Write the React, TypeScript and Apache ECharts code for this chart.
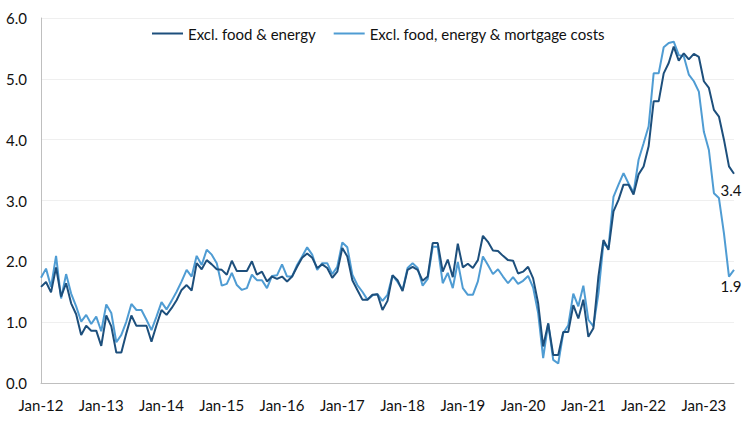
import React, { useEffect, useRef } from "react";
import * as echarts from "echarts";

const MONTHS = ["Jan", "Feb", "Mar", "Apr", "May", "Jun", "Jul", "Aug", "Sep", "Oct", "Nov", "Dec"];
const START_YEAR = 2012;
const N_POINTS = 139; // Jan-12 .. Jul-23

const categories: string[] = Array.from({ length: N_POINTS }, (_, i) => {
  const m = MONTHS[i % 12];
  const y = String((START_YEAR + Math.floor(i / 12)) % 100).padStart(2, "0");
  return `${m}-${y}`;
});

const seriesNames = ["Excl. food & energy", "Excl. food, energy & mortgage costs"];

const exclFoodEnergy = [
  1.58, 1.66, 1.49, 1.90, 1.42, 1.64, 1.31, 1.13, 0.79, 0.94, 0.86, 0.86,
  0.61, 1.11, 0.93, 0.50, 0.50, 0.82, 1.11, 0.94, 0.94, 0.94, 0.68, 0.95,
  1.20, 1.12, 1.23, 1.36, 1.53, 1.61, 1.52, 1.97, 1.87, 2.02, 1.95, 1.87,
  1.86, 1.78, 2.01, 1.84, 1.84, 1.84, 2.00, 1.78, 1.83, 1.67, 1.75, 1.71,
  1.75, 1.67, 1.75, 1.91, 2.06, 2.13, 2.06, 1.89, 1.95, 1.89, 1.73, 1.83,
  2.22, 2.08, 1.69, 1.53, 1.37, 1.37, 1.45, 1.46, 1.20, 1.35, 1.77, 1.69,
  1.51, 1.86, 1.91, 1.86, 1.68, 1.75, 2.30, 2.30, 1.83, 2.03, 1.74, 2.29,
  1.90, 1.96, 1.89, 2.02, 2.42, 2.32, 2.18, 2.17, 2.09, 2.02, 2.01, 1.80,
  1.83, 1.91, 1.72, 1.31, 0.60, 0.98, 0.46, 0.46, 0.84, 0.84, 1.28, 1.06,
  1.37, 0.76, 0.90, 1.75, 2.35, 2.19, 2.82, 3.01, 3.26, 3.26, 3.10, 3.43,
  3.56, 3.89, 4.63, 4.63, 5.09, 5.26, 5.53, 5.30, 5.42, 5.32, 5.41, 5.36,
  4.96, 4.85, 4.49, 4.38, 4.00, 3.56, 3.44,
];

const exclFoodEnergyMortgage = [
  1.73, 1.88, 1.58, 2.09, 1.39, 1.79, 1.47, 1.26, 1.01, 1.12, 0.97, 1.09,
  0.85, 1.29, 1.15, 0.67, 0.79, 1.01, 1.30, 1.20, 1.20, 1.04, 0.87, 1.09,
  1.33, 1.21, 1.35, 1.50, 1.67, 1.86, 1.75, 2.09, 1.94, 2.19, 2.11, 1.97,
  1.60, 1.63, 1.81, 1.61, 1.53, 1.56, 1.78, 1.69, 1.69, 1.56, 1.76, 1.77,
  1.95, 1.75, 1.75, 1.94, 2.08, 2.23, 2.11, 1.86, 1.97, 1.97, 1.79, 1.91,
  2.31, 2.23, 1.78, 1.61, 1.50, 1.37, 1.44, 1.46, 1.35, 1.45, 1.77, 1.66,
  1.53, 1.89, 1.97, 1.89, 1.60, 1.71, 2.24, 2.24, 1.64, 1.81, 1.56, 1.99,
  1.56, 1.45, 1.45, 1.67, 2.08, 1.94, 1.79, 1.87, 1.75, 1.64, 1.74, 1.63,
  1.68, 1.76, 1.57, 1.15, 0.41, 0.98, 0.38, 0.32, 0.82, 0.95, 1.47, 1.26,
  1.60, 1.04, 0.93, 1.47, 2.30, 2.22, 3.06, 3.26, 3.45, 3.28, 3.13, 3.67,
  3.94, 4.22, 5.09, 5.09, 5.52, 5.59, 5.61, 5.39, 5.37, 5.07, 4.96, 4.79,
  4.13, 3.83, 3.12, 3.04, 2.46, 1.75, 1.86,
];

const FONT = "Lato, 'Open Sans', sans-serif";
const DARK = "#1d4f7c";
const LIGHT = "#4f9cd3";

function withEndLabel(values: number[]) {
  return values.map((v, i) =>
    i === values.length - 1
      ? {
          value: v,
          label: {
            show: true,
            position: "bottom",
            distance: 9,
            offset: [-3, 0],
            formatter: (p: any) => Number(p.value).toFixed(1),
            color: "#111",
            fontSize: 15,
            fontFamily: FONT,
          },
        }
      : v
  );
}

export default function App() {
  const ref = useRef<HTMLDivElement>(null);

  useEffect(() => {
    document.body.style.margin = "0";
    if (!ref.current) return;
    const chart = echarts.init(ref.current, undefined, { renderer: "svg" });
    const lineSeries = (name: string, values: number[], color: string, z: number) => ({
      name,
      type: "line",
      data: withEndLabel(values),
      symbol: "circle",
      symbolSize: 0,
      showSymbol: true,
      showAllSymbol: true,
      lineStyle: { color, width: 2 },
      itemStyle: { color },
      emphasis: { disabled: true },
      z,
    });
    chart.setOption({
      animation: false,
      backgroundColor: "#ffffff",
      grid: { left: 41, right: 16, top: 18, bottom: 39, containLabel: false },
      legend: {
        top: 21,
        left: 147,
        itemWidth: 31,
        itemHeight: 2,
        itemGap: 18,
        icon: "rect",
        textStyle: { fontFamily: FONT, fontSize: 15, color: "#111" },
        data: seriesNames,
      },
      xAxis: {
        type: "category",
        data: categories,
        boundaryGap: false,
        axisLine: { show: true, lineStyle: { color: "#bfbfbf", width: 1 } },
        axisTick: { show: false },
        axisLabel: {
          interval: (index: number) => index % 12 === 0,
          fontFamily: FONT,
          fontSize: 15,
          color: "#111",
          margin: 14,
        },
        splitLine: { show: false },
      },
      yAxis: {
        type: "value",
        min: 0,
        max: 6,
        interval: 1,
        axisLine: { show: true, lineStyle: { color: "#bfbfbf", width: 1 } },
        axisTick: { show: false },
        axisLabel: {
          formatter: (v: number) => v.toFixed(1),
          fontFamily: FONT,
          fontSize: 15,
          color: "#111",
          margin: 14,
        },
        splitLine: { show: true, lineStyle: { color: "#efefef", width: 1 } },
      },
      series: [
        lineSeries(seriesNames[0], exclFoodEnergy, DARK, 3),
        lineSeries(seriesNames[1], exclFoodEnergyMortgage, LIGHT, 2),
      ],
    });
    return () => chart.dispose();
  }, []);

  return <div ref={ref} style={{ width: 750, height: 422 }} />;
}
